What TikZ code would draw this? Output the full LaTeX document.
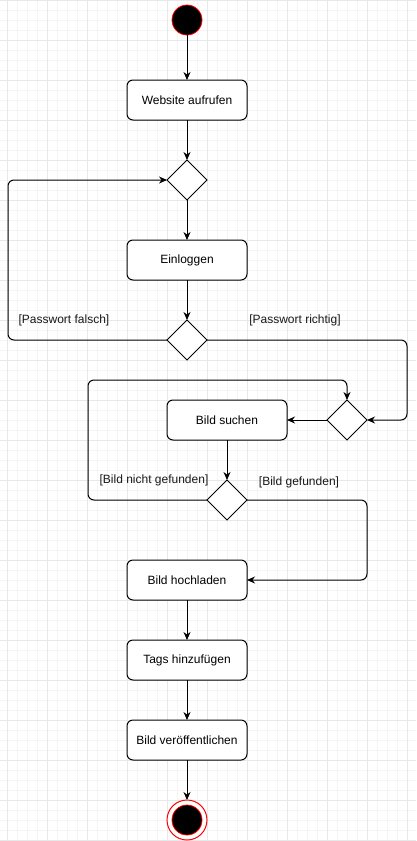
\documentclass[tikz,border=0pt]{standalone}
\usepackage{fontspec}
\setmainfont{Liberation Sans}
\usetikzlibrary{positioning,shapes.geometric,arrows.meta}

\begin{document}
\begin{tikzpicture}[
x=1pt, y=1pt, node distance=80pt,
font=\fontsize{12pt}{14pt}\selectfont,
action/.style={rectangle, rounded corners=6pt, draw=black, fill=white, line width=1pt, minimum width=120pt, minimum height=40pt, inner sep=0pt, outer sep=0pt},
choice/.style={diamond, draw=black, fill=white, line width=1pt, minimum width=40pt, minimum height=40pt, aspect=1, inner sep=0pt, outer sep=0pt},
startdot/.style={circle, draw=red, fill=black, line width=0.8pt, minimum size=30pt, inner sep=0pt, outer sep=0pt},
endring/.style={circle, draw=red, fill=white, line width=1pt, minimum size=40pt, inner sep=0pt, outer sep=0pt},
guard/.style={inner sep=0pt, text=black!90},
flow/.style={line width=1pt, rounded corners=6pt, -{Stealth[length=8pt,width=7pt]}}
]
%Background grid
\useasboundingbox (0,0) rectangle (416,-841);
\fill[white] (0,0) rectangle (416,-841);
\draw[black!4, line width=0.6pt, xshift=7pt, step=10pt] (-7,0) grid (409,-841);
\draw[black!9, line width=0.8pt, xshift=7pt, step=40pt] (-7,0) grid (409,-841);
%Nodes
\node[startdot]  (start)    at (187,-20)                              {};
\node[action]    (website)  [below of = start]                        {Website aufrufen};
\node[choice]    (login)    [below of = website]                      {};
\node[action]    (einloggen)[below of = login]                        {Einloggen};
\node[choice]    (pw)       [below of = einloggen]                    {};
\node[choice]    (search)   [below of = pw, xshift= 160pt]            {};
\node[action]    (suchen)   [left of = search, xshift= -40pt]         {Bild suchen};
\node[choice]    (found)    [below of = suchen]                       {};
\node[action]    (upload)   [below of = found, xshift= -40pt]         {Bild hochladen};
\node[action]    (tags)     [below of = upload]                       {Tags hinzufügen};
\node[action]    (publish)  [below of = tags]                         {Bild veröffentlichen};
\node[endring]   (end)      [below of = publish]                      {};
\node[startdot]  (endin)    at (end)                                  {};
%Guards
\node[guard]     (pwfalse)  [left of = pw, xshift= -43pt, yshift= 20pt]    {[Passwort falsch]};
\node[guard]     (pwtrue)   [right of = pw, xshift= 28pt, yshift= 20pt]    {[Passwort richtig]};
\node[guard]     (notfound) [left of = found, xshift= 7pt, yshift= 20pt]   {[Bild nicht gefunden]};
\node[guard]     (isfound)  [right of = found, xshift= -8pt, yshift= 18pt] {[Bild gefunden]};
%Lines
\draw[flow] (start) -- (website);
\draw[flow] (website) -- (login);
\draw[flow] (login) -- (einloggen);
\draw[flow] (einloggen) -- (pw);
\draw[flow] (pw.west) -- ++(-159,0) |- (login.west);
\draw[flow] (pw.east) -- ++(200,0) |- (search.east);
\draw[flow] (search) -- (suchen);
\draw[flow] (suchen) -- (found);
\draw[flow] (found.west) -- ++(-119,0) |- ([yshift=20pt]search.north) -- (search.north);
\draw[flow] (found.east) -- ++(120,0) |- (upload.east);
\draw[flow] (upload) -- (tags);
\draw[flow] (tags) -- (publish);
\draw[flow] (publish) -- (end);
\end{tikzpicture}
\end{document}
